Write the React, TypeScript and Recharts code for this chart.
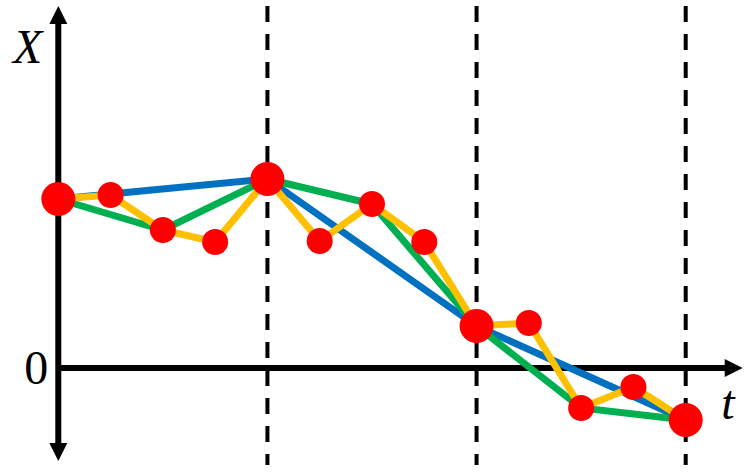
import React from "react";
import {
  ComposedChart,
  Line,
  Scatter,
  XAxis,
  YAxis,
  ReferenceLine,
  ReferenceDot,
} from "recharts";

// fine grid (yellow), every time step
const fineT = [0, 1, 2, 3, 4, 5, 6, 7, 8, 9, 10, 11, 12];
const fineX = [16.9, 17.3, 13.8, 12.6, 18.9, 12.7, 16.4, 12.6, 4.2, 4.5, -4.0, -1.9, -5.2];

// medium grid (green), every second step
const mediumT = [0, 2, 4, 6, 8, 10, 12];
const mediumX = [16.9, 13.8, 18.9, 16.4, 4.2, -4.0, -5.2];

// coarse grid (blue), every fourth step
const coarseT = [0, 4, 8, 12];
const coarseX = [16.9, 18.9, 4.2, -5.2];

// dashed verticals
const dashT = [4, 8, 12];

const toRows = (ts: number[], xs: number[]) => ts.map((t, i) => ({ t, x: xs[i] }));

const fine = toRows(fineT, fineX);
const medium = toRows(mediumT, mediumX);
const coarse = toRows(coarseT, coarseX);

const W = 751;
const H = 475;

const Arrow = (dir: "up" | "down" | "right") => (p: any) => {
  const { cx, cy } = p;
  let pts = "";
  if (dir === "up") pts = `${cx},${cy} ${cx - 9},${cy + 18} ${cx + 9},${cy + 18}`;
  if (dir === "down") pts = `${cx},${cy} ${cx - 9},${cy - 18} ${cx + 9},${cy - 18}`;
  if (dir === "right") pts = `${cx},${cy} ${cx - 18},${cy - 9} ${cx - 18},${cy + 9}`;
  return <polygon points={pts} fill="#000" />;
};

const TextAt = (txt: string, dx: number, dy: number, italic: boolean) => (p: any) => (
  <text
    x={p.cx + dx}
    y={p.cy + dy}
    textAnchor="end"
    fontFamily="'Liberation Serif', serif"
    fontStyle={italic ? "italic" : "normal"}
    fontSize={48}
    fill="#000"
  >
    {txt}
  </text>
);

const Dot = (r: number) => (p: any) => <circle cx={p.cx} cy={p.cy} r={r} fill="#FF0000" />;

export default function App() {
  return (
    <div style={{ position: "absolute", left: 0, top: 0, background: "#fff" }}>
      <ComposedChart width={W} height={H} margin={{ top: 0, right: 0, bottom: 0, left: 0 }}>
        <XAxis type="number" dataKey="t" hide domain={[-1.115, 13.249]} allowDataOverflow />
        <YAxis type="number" dataKey="x" hide domain={[-10.7, 36.8]} allowDataOverflow />

        {dashT.map((t) => (
          <ReferenceLine
            key={t}
            segment={[{ x: t, y: 36.2 }, { x: t, y: -9.7 }]}
            stroke="#000"
            strokeWidth={4}
            strokeDasharray="16 12"
          />
        ))}

        {/* axes */}
        <ReferenceLine segment={[{ x: 0, y: 34.8 }, { x: 0, y: -8.0 }]} stroke="#000" strokeWidth={6} />
        <ReferenceLine segment={[{ x: 0, y: 0 }, { x: 12.8, y: 0 }]} stroke="#000" strokeWidth={6} />
        <ReferenceDot x={0} y={36.2} r={0} shape={Arrow("up")} />
        <ReferenceDot x={0} y={-9.3} r={0} shape={Arrow("down")} />
        <ReferenceDot x={13.09} y={0} r={0} shape={Arrow("right")} />

        <ReferenceDot x={0} y={30.5} r={0} shape={TextAt("X", -16, 0, true)} />
        <ReferenceDot x={0} y={0} r={0} shape={TextAt("0", -10, 16, false)} />
        <ReferenceDot x={13.09} y={0} r={0} shape={TextAt("t", -8, 51, true)} />

        <Line
          data={coarse}
          dataKey="x"
          type="linear"
          stroke="#0070C0"
          strokeWidth={7}
          dot={false}
          activeDot={false}
          isAnimationActive={false}
        />
        <Line
          data={medium}
          dataKey="x"
          type="linear"
          stroke="#00B050"
          strokeWidth={7}
          dot={false}
          activeDot={false}
          isAnimationActive={false}
        />
        <Line
          data={fine}
          dataKey="x"
          type="linear"
          stroke="#FFC000"
          strokeWidth={7}
          dot={false}
          activeDot={false}
          isAnimationActive={false}
        />
        <Scatter data={fine} dataKey="x" shape={Dot(13)} isAnimationActive={false} />
        <Scatter data={coarse} dataKey="x" shape={Dot(17)} isAnimationActive={false} />
      </ComposedChart>
    </div>
  );
}
